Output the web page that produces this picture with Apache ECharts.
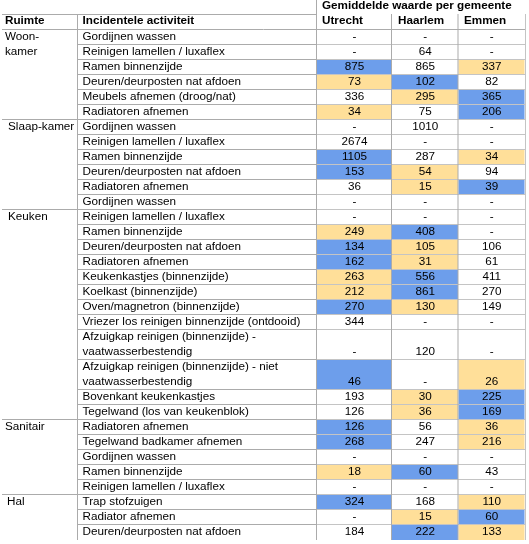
<!DOCTYPE html>
<html><head><meta charset="utf-8">
<script src="https://cdn.jsdelivr.net/npm/echarts@6/dist/echarts.min.js"></script>
<style>html,body{margin:0;padding:0;background:#fff}#c{width:529px;height:544px}</style>
</head><body><div id="c"></div>
<script>
// ---- data ----
const headerTitle = 'Gemiddelde waarde per gemeente';
const colHeaders = ['Ruimte', 'Incidentele activiteit'];
const gemeenten = ['Utrecht', 'Haarlem', 'Emmen'];
const ruimtes = ['Woon-\nkamer', 'Slaap-kamer', 'Keuken', 'Sanitair', 'Hal'];
const ruimteRows = [6, 6, 12, 5, 3];
const activiteiten = [
  'Gordijnen wassen', 'Reinigen lamellen / luxaflex', 'Ramen binnenzijde', 'Deuren/deurposten nat afdoen', 'Meubels afnemen (droog/nat)', 'Radiatoren afnemen',
  'Gordijnen wassen', 'Reinigen lamellen / luxaflex', 'Ramen binnenzijde', 'Deuren/deurposten nat afdoen', 'Radiatoren afnemen', 'Gordijnen wassen',
  'Reinigen lamellen / luxaflex', 'Ramen binnenzijde', 'Deuren/deurposten nat afdoen', 'Radiatoren afnemen', 'Keukenkastjes (binnenzijde)', 'Koelkast (binnenzijde)',
  'Oven/magnetron (binnenzijde)', 'Vriezer los reinigen binnenzijde (ontdooid)', 'Afzuigkap reinigen (binnenzijde) -\nvaatwasserbestendig',
  'Afzuigkap reinigen (binnenzijde) - niet\nvaatwasserbestendig', 'Bovenkant keukenkastjes', 'Tegelwand (los van keukenblok)',
  'Radiatoren afnemen', 'Tegelwand badkamer afnemen', 'Gordijnen wassen', 'Ramen binnenzijde', 'Reinigen lamellen / luxaflex',
  'Trap stofzuigen', 'Radiator afnemen', 'Deuren/deurposten nat afdoen'
];
const utrecht = [null, null, 875, 73, 336, 34, null, 2674, 1105, 153, 36, null, null, 249, 134, 162, 263, 212, 270, 344, null, 46, 193, 126, 126, 268, null, 18, null, 324, null, 184];
const haarlem = [null, 64, 865, 102, 295, 75, 1010, null, 287, 54, 15, null, null, 408, 105, 31, 556, 861, 130, null, 120, null, 30, 36, 56, 247, null, 60, null, 168, 15, 222];
const emmen = [null, null, 337, 82, 365, 206, null, null, 34, 94, 39, null, null, null, 106, 61, 411, 270, 149, null, null, 26, 225, 169, 36, 216, null, 43, null, 110, 60, 133];

// ---- layout / style ----
const FONT = 'Liberation Sans, Arial, sans-serif';
const FS = 11.7;
const ROW_H = 15, TOP = 30, TXT_DY = -0.8;
const colEdges = [317, 392, 458.5, 525];
const ruimteIndent = [5, 8, 8, 5, 7];
const BLUE = '#6d9eeb', YELLOW = '#ffdf99', LINE = '#ababab', LINE_LIGHT = '#c4c4c4';

const series = [utrecht, haarlem, emmen];
const rowUnits = activiteiten.map(a => a.indexOf('\n') >= 0 ? 2 : 1);
const rowTop = [];
{ let y = TOP; rowUnits.forEach(u => { rowTop.push(y); y += u * ROW_H; }); }
const tableBottom = TOP + rowUnits.reduce((a, b) => a + b, 0) * ROW_H;
const groupStart = [];
{ let s = 0; ruimteRows.forEach(n => { groupStart.push(s); s += n; }); }

// colour rule: per row, highest = blue, lowest = yellow (when ≥2 values)
function cellColor(r, c) {
  const vals = series.map(s => s[r]).filter(v => v != null);
  const v = series[c][r];
  if (v == null || vals.length < 2) return null;
  if (v === Math.max(...vals)) return BLUE;
  if (v === Math.min(...vals)) return YELLOW;
  return null;
}

const cellData = [];
for (let r = 0; r < activiteiten.length; r++)
  for (let c = 0; c < 3; c++) cellData.push([c, r, series[c][r]]);

function txt(x, y, text, opts) {
  return {
    type: 'text', z2: 10,
    style: Object.assign({ x, y: y + TXT_DY, text, fill: '#000', fontSize: FS, fontFamily: FONT, textAlign: 'left', textVerticalAlign: 'middle' }, opts || {})
  };
}
function line(api, x1, y1, x2, y2, col) {
  const p1 = api.coord([x1, y1]), p2 = api.coord([x2, y2]);
  return { type: 'line', shape: { x1: p1[0], y1: p1[1], x2: p2[0], y2: p2[1] }, style: { stroke: col || LINE, lineWidth: 1 } };
}

const chart = echarts.init(document.getElementById('c'), null, { renderer: 'canvas' });
chart.setOption({
  animation: false,
  backgroundColor: '#fff',
  grid: { left: 0, right: 0, top: 0, bottom: 0 },
  xAxis: { type: 'value', min: 0, max: 529, show: false },
  yAxis: { type: 'value', min: 0, max: 544, inverse: true, show: false },
  series: [
    { // value cells
      type: 'custom', z: 1, data: cellData,
      renderItem: function (params, api) {
        const c = api.value(0), r = api.value(1), v = series[c][r];
        const top = rowTop[r], h = rowUnits[r] * ROW_H;
        const x0 = colEdges[c], x1 = colEdges[c + 1];
        const p0 = api.coord([x0, top]), p1 = api.coord([x1 - 0.5, top + h]);
        const children = [];
        const col = cellColor(r, c);
        if (col) children.push({ type: 'rect', shape: { x: p0[0], y: p0[1], width: p1[0] - p0[0], height: p1[1] - p0[1] }, style: { fill: col } });
        const tp = api.coord([(x0 + x1) / 2, top + h - ROW_H / 2]);
        children.push(txt(tp[0], tp[1], v == null ? '-' : String(v), { textAlign: 'center' }));
        return { type: 'group', children };
      }
    },
    { // grid lines
      type: 'custom', z: 2, data: [0],
      renderItem: function (params, api) {
        const ch = [];
        ch.push(line(api, 2, 14.5, 317, 14.5));
        ch.push(line(api, 2, TOP - 0.5, 525, TOP - 0.5));
        for (let r = 1; r < activiteiten.length; r++) {
          const y = rowTop[r] - 0.5;
          const isGroup = groupStart.indexOf(r) >= 0;
          ch.push(line(api, isGroup ? 2 : 77.5, y, 317, y));
          ch.push(line(api, 317, y, 525, y, LINE_LIGHT));
        }
        ch.push(line(api, 77.5, 14, 77.5, tableBottom));
        ch.push(line(api, 316.5, 0, 316.5, tableBottom));
        ch.push(line(api, 391.5, 14, 391.5, tableBottom));
        ch.push(line(api, 458, 14, 458, tableBottom));
        ch.push(line(api, 525.5, 14, 525.5, tableBottom, LINE_LIGHT));
        return { type: 'group', children: ch };
      }
    },
    { // activity labels
      type: 'custom', z: 3, data: activiteiten.map((a, i) => [i]),
      renderItem: function (params, api) {
        const r = api.value(0);
        const parts = activiteiten[r].split('\n');
        return { type: 'group', children: parts.map((p, k) => {
          const pt = api.coord([82.5, rowTop[r] + ROW_H / 2 + k * ROW_H]);
          return txt(pt[0], pt[1], p);
        }) };
      }
    },
    { // ruimte labels
      type: 'custom', z: 3, data: ruimtes.map((a, i) => [i]),
      renderItem: function (params, api) {
        const g = api.value(0);
        const parts = ruimtes[g].split('\n');
        const top = rowTop[groupStart[g]];
        return { type: 'group', children: parts.map((p, k) => {
          const pt = api.coord([ruimteIndent[g], top + ROW_H / 2 + k * ROW_H]);
          return txt(pt[0], pt[1], p);
        }) };
      }
    },
    { // headers
      type: 'custom', z: 3, data: [0],
      renderItem: function (params, api) {
        const b = { fontWeight: 'bold' };
        const items = [
          [322, 7, headerTitle], [5, 21.5, colHeaders[0]], [82.5, 21.5, colHeaders[1]],
          [322, 21.5, gemeenten[0]], [398, 21.5, gemeenten[1]], [464, 21.5, gemeenten[2]]
        ];
        return { type: 'group', children: items.map(it => { const p = api.coord([it[0], it[1]]); return txt(p[0], p[1], it[2], b); }) };
      }
    }
  ]
});
</script></body></html>
